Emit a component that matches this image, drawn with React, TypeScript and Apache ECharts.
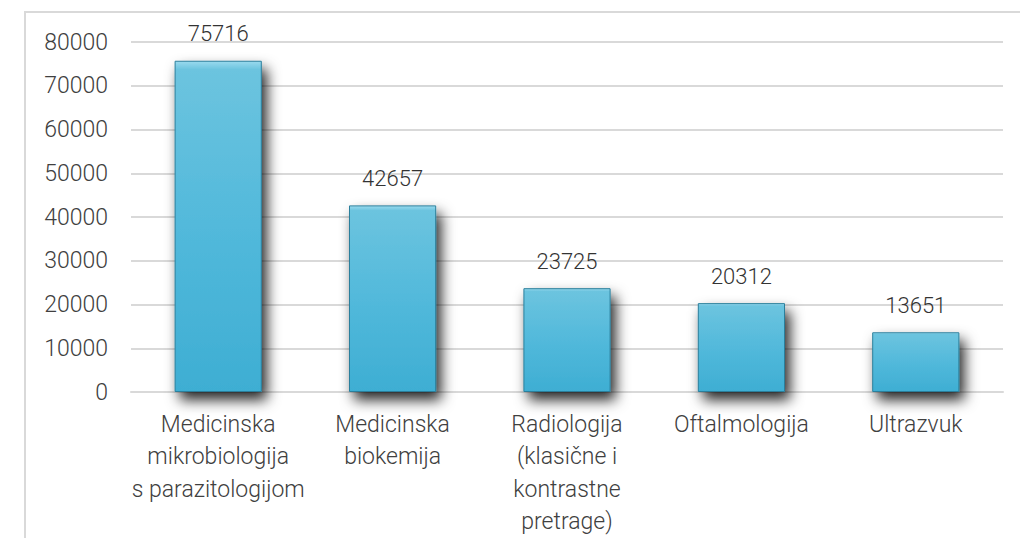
import React, { useEffect, useRef } from "react";
import * as echarts from "echarts";

const categories = [
  "Medicinska\nmikrobiologija\ns parazitologijom",
  "Medicinska\nbiokemija",
  "Radiologija\n(klasične i\nkontrastne\npretrage)",
  "Oftalmologija",
  "Ultrazvuk",
];
const values = [75716, 42657, 23725, 20312, 13651];
const yMin = 0;
const yMax = 80000;
const yStep = 10000;

export default function App() {
  const ref = useRef<HTMLDivElement>(null);
  useEffect(() => {
    if (!ref.current) return;
    const chart = echarts.init(ref.current, null, { renderer: "svg" });
    const font = "Roboto, 'DejaVu Sans', sans-serif";
    chart.setOption({
      animation: false,
      backgroundColor: "#ffffff",
      graphic: [
        {
          type: "rect",
          shape: { x: 25, y: 12, width: 1100, height: 600 },
          style: { fill: "none", stroke: "#d9d9d9", lineWidth: 2 },
          silent: true,
        },
      ],
      grid: { left: 131, right: 17, top: 42, bottom: 142, containLabel: false },
      xAxis: {
        type: "category",
        data: categories,
        axisLine: { show: true, lineStyle: { color: "#d9d9d9", width: 2 } },
        axisTick: { show: false },
        axisLabel: {
          color: "#404040",
          fontFamily: font,
          fontWeight: 300,
          fontSize: 23,
          lineHeight: 32.5,
          margin: 16,
          interval: 0,
        },
      },
      yAxis: {
        type: "value",
        min: yMin,
        max: yMax,
        interval: yStep,
        axisLine: { show: false },
        axisTick: { show: false },
        splitLine: { lineStyle: { color: "#d9d9d9", width: 2 } },
        axisLabel: {
          color: "#404040",
          fontFamily: font,
          fontWeight: 300,
          fontSize: 23,
          margin: 23,
          formatter: (v: number) => String(v),
        },
      },
      series: [
        {
          type: "bar",
          data: values,
          barWidth: "50%",
          itemStyle: {
            color: new echarts.graphic.LinearGradient(0, 0, 0, 1, [
              { offset: 0, color: "#9adaee" },
              { offset: 0.025, color: "#6cc4df" },
              { offset: 0.5, color: "#52b9db" },
              { offset: 1, color: "#3eaed3" },
            ]),
            borderColor: "#2b7f9c",
            borderWidth: 1,
            shadowBlur: 14,
            shadowColor: "rgba(0,0,0,0.85)",
            shadowOffsetX: 5,
            shadowOffsetY: 8,
          },
          label: {
            show: true,
            position: "top",
            distance: 16,
            color: "#333333",
            fontFamily: font,
            fontWeight: 300,
            fontSize: 22,
          },
        },
      ],
    });
    return () => chart.dispose();
  }, []);
  return (
    <div
      ref={ref}
      style={{ position: "fixed", left: 0, top: 0, width: 1020, height: 538 }}
    />
  );
}
